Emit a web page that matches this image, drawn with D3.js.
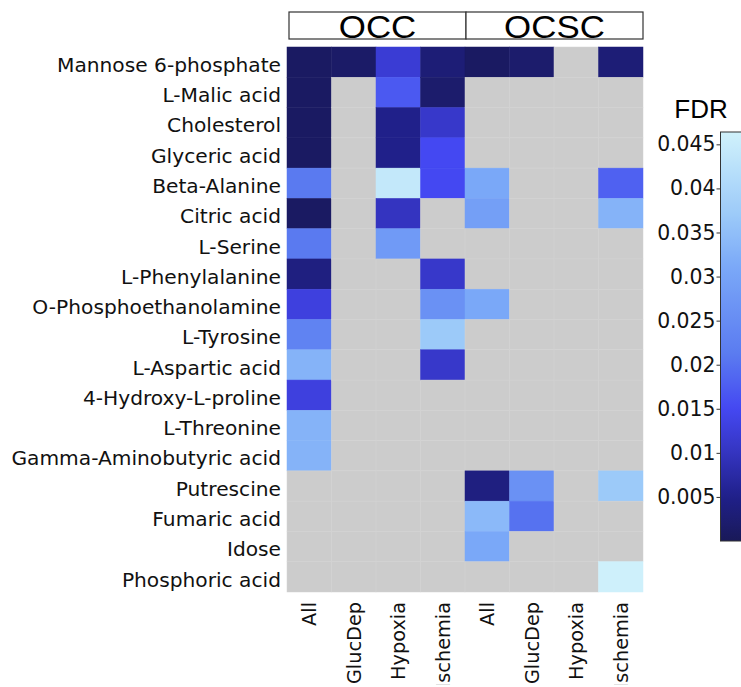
<!DOCTYPE html>
<html>
<head>
<meta charset="utf-8">
<script src="https://cdn.jsdelivr.net/npm/d3@7"></script>
<style>
  html, body { margin: 0; padding: 0; background: #fff; overflow: hidden; }
  svg { display: block; }
</style>
</head>
<body>
<svg id="chart" width="741" height="687"></svg>
<script>
// Metabolites (rows, top to bottom)
const metabolites = [
  "Mannose 6-phosphate", "L-Malic acid", "Cholesterol", "Glyceric acid",
  "Beta-Alanine", "Citric acid", "L-Serine", "L-Phenylalanine",
  "O-Phosphoethanolamine", "L-Tyrosine", "L-Aspartic acid", "4-Hydroxy-L-proline",
  "L-Threonine", "Gamma-Aminobutyric acid", "Putrescine", "Fumaric acid",
  "Idose", "Phosphoric acid"
];

// Column groups and conditions
const groups = ["OCC", "OCSC"];
const conditions = ["All", "GlucDep", "Hypoxia", "Ischemia"];

// FDR values per column (null = not significant)
const occAll       = [0.001, 0.001, 0.001, 0.001, 0.021, 0.001, 0.021, 0.004, 0.013, 0.023, 0.033, 0.013, 0.033, 0.033, null, null, null, null];
const occGlucDep   = [0.0015, null, null, null, null, null, null, null, null, null, null, null, null, null, null, null, null, null];
const occHypoxia   = [0.012, 0.017, 0.005, 0.005, 0.044, 0.010, 0.028, null, null, null, null, null, null, null, null, null, null, null];
const occIschemia  = [0.003, 0.002, 0.011, 0.015, 0.015, null, null, 0.011, 0.026, 0.037, 0.011, null, null, null, null, null, null, null];
const ocscAll      = [0.001, null, null, null, 0.031, 0.029, null, null, 0.031, null, null, null, null, null, 0.004, 0.034, 0.031, null];
const ocscGlucDep  = [0.002, null, null, null, null, null, null, null, null, null, null, null, null, null, 0.026, 0.020, null, null];
const ocscHypoxia  = [null, null, null, null, null, null, null, null, null, null, null, null, null, null, null, null, null, null];
const ocscIschemia = [0.003, null, null, null, 0.018, 0.033, null, null, null, null, null, null, null, null, 0.037, null, null, 0.046];

const columnValues = [occAll, occGlucDep, occHypoxia, occIschemia, ocscAll, ocscGlucDep, ocscHypoxia, ocscIschemia];

// Colour bar
const fdrMax = 0.0464;
const legendTicks = [0.005, 0.01, 0.015, 0.02, 0.025, 0.03, 0.035, 0.04, 0.045];

const columns = [];
groups.forEach(g => conditions.forEach(c => columns.push({ group: g, condition: c })));

const cells = [];
columnValues.forEach((vals, ci) => {
  vals.forEach((v, ri) => cells.push({ col: ci, row: metabolites[ri], value: v }));
});

const svg = d3.select("#chart");
const font = "'DejaVu Sans', sans-serif";
const labelSize = 20.2;
const colLabelSize = 19.3;

const x = d3.scaleBand().domain(d3.range(columns.length)).range([287, 643]);
const y = d3.scaleBand().domain(metabolites).range([47, 592]);

const color = d3.scaleLinear()
  .domain([0, 0.005, 0.010, 0.015, 0.021, 0.031, 0.037, fdrMax])
  .range(["#191958", "#20208a", "#3434c0", "#4448f2", "#5a7af0", "#7aa8f8", "#9ccaf9", "#d0f2fb"])
  .interpolate(d3.interpolateRgb)
  .clamp(true);
const naColor = "#cccccc";

const defs = svg.append("defs");
// Bottom edge of the figure area: column labels are cut off here
defs.append("clipPath").attr("id", "figClip")
  .append("rect").attr("x", 0).attr("y", 0).attr("width", 741).attr("height", 684.5);

// Heatmap cells
svg.append("g").selectAll("rect")
  .data(cells)
  .join("rect")
  .attr("x", d => x(d.col))
  .attr("y", d => y(d.row))
  .attr("width", x.bandwidth())
  .attr("height", y.bandwidth())
  .attr("fill", d => d.value == null ? naColor : color(d.value))
  .attr("stroke", d => d.value == null ? "#d2d2d2" : color(d.value))
  .attr("stroke-width", 0.5);

// Row labels
svg.append("g").selectAll("text")
  .data(metabolites)
  .join("text")
  .attr("x", 281)
  .attr("y", d => y(d) + y.bandwidth() / 2)
  .attr("dy", "0.48em")
  .attr("text-anchor", "end")
  .attr("font-family", font)
  .attr("font-size", labelSize)
  .attr("fill", "#111")
  .text(d => d);

// Column labels (rotated, reading bottom to top)
svg.append("g")
  .attr("clip-path", "url(#figClip)")
  .selectAll("text")
  .data(columns)
  .join("text")
  .attr("transform", (d, i) => `translate(${x(i) + x.bandwidth() / 2},602) rotate(-90)`)
  .attr("dy", "0.35em")
  .attr("text-anchor", "end")
  .attr("font-family", font)
  .attr("font-size", colLabelSize)
  .attr("fill", "#111")
  .text(d => d.condition);

// Group header strip
const gx = d3.scaleBand().domain(groups).range([289, 643]);
const header = svg.append("g");
header.selectAll("rect")
  .data(groups)
  .join("rect")
  .attr("x", d => gx(d))
  .attr("y", 12)
  .attr("width", gx.bandwidth())
  .attr("height", 27)
  .attr("fill", "#fff")
  .attr("stroke", "#333")
  .attr("stroke-width", 1.2);
header.selectAll("text")
  .data(groups)
  .join("text")
  .attr("transform", d => `translate(${gx(d) + gx.bandwidth() / 2},38) scale(1.09,1)`)
  .attr("text-anchor", "middle")
  .attr("font-family", "'Liberation Sans', Arial, sans-serif")
  .attr("font-size", 32)
  .attr("fill", "#000")
  .text(d => d);

// Colour bar legend
const ly = d3.scaleLinear().domain([0, fdrMax]).range([541, 132]);
const grad = defs.append("linearGradient")
  .attr("id", "fdrGrad")
  .attr("x1", 0).attr("y1", 1).attr("x2", 0).attr("y2", 0);
d3.range(0, 1.0001, 0.02).forEach(t => {
  grad.append("stop")
    .attr("offset", t)
    .attr("stop-color", color(t * fdrMax));
});
svg.append("rect")
  .attr("x", 720.5)
  .attr("y", ly(fdrMax))
  .attr("width", 40)
  .attr("height", ly(0) - ly(fdrMax))
  .attr("fill", "url(#fdrGrad)")
  .attr("stroke", "#333")
  .attr("stroke-width", 1);

const axis = d3.axisLeft(ly)
  .tickValues(legendTicks)
  .tickSize(4)
  .tickFormat(d => String(+d.toFixed(3)));
const ag = svg.append("g").attr("transform", "translate(720.5,0)").call(axis);
ag.select(".domain").remove();
ag.selectAll(".tick line").attr("stroke", "#333");
ag.selectAll(".tick text")
  .attr("font-family", font)
  .attr("font-size", 20.4)
  .attr("fill", "#111")
  .attr("x", -5);

svg.append("text")
  .attr("x", 701)
  .attr("y", 118)
  .attr("text-anchor", "middle")
  .attr("font-family", "'Liberation Sans', Arial, sans-serif")
  .attr("font-size", 26)
  .attr("fill", "#000")
  .text("FDR");
</script>
</body>
</html>
